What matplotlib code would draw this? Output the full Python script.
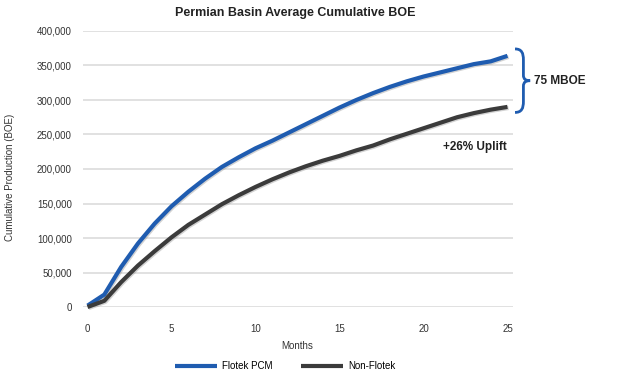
import matplotlib
matplotlib.use("Agg")
import matplotlib.pyplot as plt
import matplotlib.patheffects as pe
from matplotlib.path import Path
from matplotlib.patches import PathPatch
from matplotlib.lines import Line2D
from matplotlib.ticker import FuncFormatter

# data
months = list(range(26))
flotek_pcm = [2000, 18000, 58000, 92000, 121000, 146000, 167000, 186000, 203000, 217000,
              230000, 241000, 253000, 265000, 277000, 289000, 300000, 310000, 319000, 327000,
              334000, 340000, 346000, 352000, 356000, 364000]
non_flotek = [0, 9000, 36000, 60000, 81000, 101000, 119000, 134000, 149000, 162000,
              174000, 185000, 195000, 204000, 212000, 219000, 227000, 234000, 243000, 251000,
              259000, 267000, 275000, 281000, 286000, 290000]
series_names = ["Flotek PCM", "Non-Flotek"]
y_ticks = [0, 50000, 100000, 150000, 200000, 250000, 300000, 350000, 400000]
x_ticks = [0, 5, 10, 15, 20, 25]

blue = "#1f5cb0"
dark = "#3b3b3b"
narrow = ["Liberation Sans Narrow", "Liberation Sans", "DejaVu Sans"]
bold_font = ["Liberation Sans", "DejaVu Sans"]

fig = plt.figure(figsize=(6.2, 3.79), dpi=100)
ax = fig.add_axes([83 / 620, 72 / 379, 430 / 620, 276 / 379])

shadow = [pe.SimpleLineShadow(offset=(0.8, -0.8), shadow_color="gray", alpha=0.35), pe.Normal()]
ax.plot(months, flotek_pcm, color=blue, lw=3.0, clip_on=False, zorder=3,
        solid_capstyle="butt", path_effects=shadow)
ax.plot(months, non_flotek, color=dark, lw=3.0, clip_on=False, zorder=3,
        solid_capstyle="butt", path_effects=shadow)

ax.set_xlim(-0.27, 25.33)
ax.set_ylim(0, 400000)
ax.set_yticks(y_ticks)
ax.set_xticks(x_ticks)
ax.yaxis.set_major_formatter(FuncFormatter(lambda v, p: f"{int(v):,}"))
ax.grid(axis="y", color="#dcdcdc", lw=1.2)
ax.set_axisbelow(True)
for s in ax.spines.values():
    s.set_visible(False)
ax.tick_params(length=0, labelsize=7, colors="#333333")
ax.tick_params(axis="y", pad=8)
ax.tick_params(axis="x", pad=12)
for lab in ax.get_xticklabels() + ax.get_yticklabels():
    lab.set_family(narrow)

fig.text(295 / 620, 1 - 13 / 379, "Permian Basin Average Cumulative BOE", ha="center", va="center",
         fontsize=9, fontweight="bold", family=narrow, color="#222222")
fig.text(10 / 620, 1 - 177 / 379, "Cumulative Production (BOE)", rotation=90, ha="center", va="center",
         fontsize=7, family=narrow, color="#333333")
fig.text(297 / 620, 1 - 346 / 379, "Months", ha="center", va="center",
         fontsize=7, family=narrow, color="#333333")

# curly brace between the two end values
yc, h = 328000, 46000
verts = [(25.45, yc + h),
         (25.85, yc + h), (25.95, yc + h - 6000), (25.95, yc + h - 16000),
         (25.95, yc + 8000),
         (25.95, yc + 2000), (26.1, yc), (26.35, yc),
         (26.1, yc), (25.95, yc - 2000), (25.95, yc - 8000),
         (25.95, yc - h + 16000),
         (25.95, yc - h + 6000), (25.85, yc - h), (25.45, yc - h)]
codes = [Path.MOVETO, Path.CURVE4, Path.CURVE4, Path.CURVE4, Path.LINETO,
         Path.CURVE4, Path.CURVE4, Path.CURVE4, Path.CURVE4, Path.CURVE4, Path.CURVE4,
         Path.LINETO, Path.CURVE4, Path.CURVE4, Path.CURVE4]
ax.add_patch(PathPatch(Path(verts, codes), fill=False, edgecolor=blue, lw=2.0, clip_on=False))

ax.text(26.6, yc, "75 MBOE", ha="left", va="center", fontsize=8.5, fontweight="bold",
        family=bold_font, color="#222222", clip_on=False)
ax.text(24.95, 232000, "+26% Uplift", ha="right", va="center", fontsize=8.5, fontweight="bold",
        family=bold_font, color="#222222")

handles = [Line2D([], [], color=blue, lw=3.0, solid_capstyle="butt"),
           Line2D([], [], color=dark, lw=3.0, solid_capstyle="butt")]
fig.legend(handles, series_names, loc="center", bbox_to_anchor=(285 / 620, 1 - 366 / 379), ncol=2,
           frameon=False, handlelength=4.3, handletextpad=0.5, columnspacing=3.0,
           prop={"family": narrow, "size": 7})

fig.savefig("out.png", dpi=100)
